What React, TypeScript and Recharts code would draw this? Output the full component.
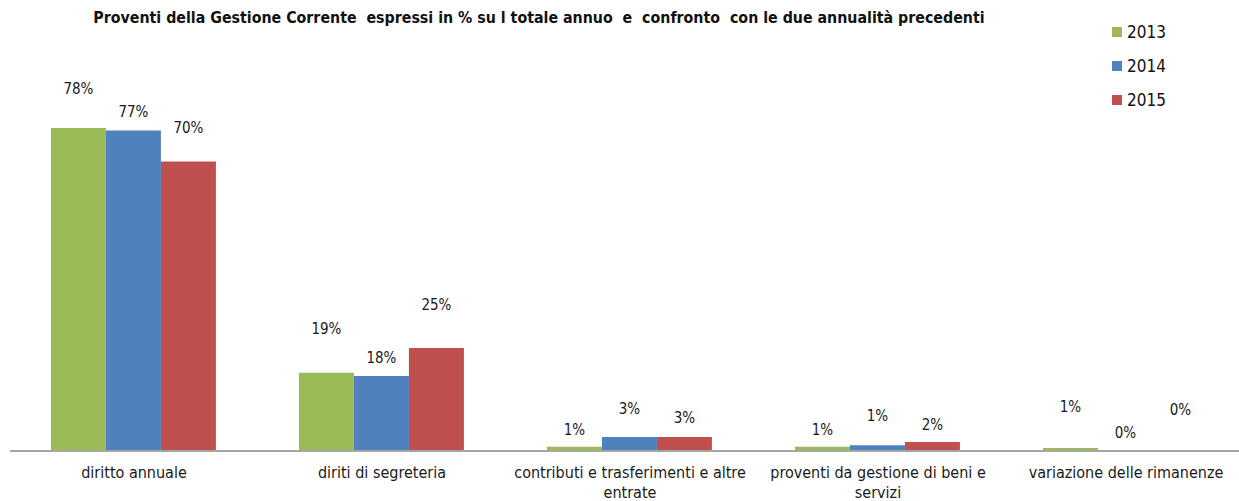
import React from 'react';
import { BarChart, Bar, XAxis, YAxis } from 'recharts';

const categories = [
  'diritto annuale',
  'diriti di segreteria',
  'contributi e trasferimenti e altre entrate',
  'proventi da gestione di beni e servizi',
  'variazione delle rimanenze',
];
const tickLines = [
  ['diritto annuale'],
  ['diriti di segreteria'],
  ['contributi e trasferimenti e altre', 'entrate'],
  ['proventi da gestione di beni e', 'servizi'],
  ['variazione delle rimanenze'],
];
const values2013 = [78, 18.9, 1, 1, 0.7];
const values2014 = [77.4, 18.1, 3.4, 1.4, 0];
const values2015 = [69.9, 24.9, 3.4, 2.2, 0];
const labels2013 = ['78%', '19%', '1%', '1%', '1%'];
const labels2014 = ['77%', '18%', '3%', '1%', '0%'];
const labels2015 = ['70%', '25%', '3%', '2%', '0%'];

// how far (px) each data label sits above its bar, as placed in the original
const lift2013 = [39, 44, 17, 17, 41];
const lift2014 = [19, 18, 28, 29, 18];
const lift2015 = [34, 43, 19, 17, 41];

const series = [
  { key: 'y2013', name: '2013', color: '#9BBB59', values: values2013, labels: labels2013, lift: lift2013 },
  { key: 'y2014', name: '2014', color: '#4F81BD', values: values2014, labels: labels2014, lift: lift2014 },
  { key: 'y2015', name: '2015', color: '#C0504D', values: values2015, labels: labels2015, lift: lift2015 },
];

const data = categories.map((c, i) => ({
  name: c,
  y2013: values2013[i],
  y2014: values2014[i],
  y2015: values2015[i],
}));

const FONT = '"Liberation Sans Narrow", "DejaVu Sans Condensed", "Liberation Sans", sans-serif';

function CategoryTick({ x, y, payload }: any) {
  const lines = tickLines[payload.index] || [payload.value];
  return (
    <text x={x} y={y} textAnchor="middle" fontFamily={FONT} fontSize={16} fill="#1a1a1a">
      {lines.map((l, i) => (
        <tspan key={i} x={x} dy={i === 0 ? 19 : 20}>
          {l}
        </tspan>
      ))}
    </text>
  );
}

function LabelText({ x, y, text }: { x: number; y: number; text: string }) {
  return (
    <text x={x} y={y} textAnchor="middle" dominantBaseline="central" fontFamily={FONT} fontSize={15} fill="#1a1a1a">
      {text}
    </text>
  );
}

// Recharts draws no label for a zero-height bar, so the first series also
// writes the labels of zero-valued bars beside it (same bar width, gap 0).
function makeLabel(si: number) {
  const s = series[si];
  return (props: any) => {
    const { x, y, width, height, index } = props;
    const top = height < 0 ? y + height : y;
    const base = height < 0 ? y : y + height;
    const extra = series
      .map((o, sj) => ({ o, sj }))
      .filter(({ o, sj }) => sj > si && o.values[index] === 0);
    return (
      <g key={`lbl-${si}-${index}`}>
        <LabelText x={x + width / 2} y={top - s.lift[index]} text={s.labels[index]} />
        {si === 0 &&
          extra.map(({ o, sj }) => (
            <LabelText
              key={sj}
              x={x + width * (sj - si) + width / 2}
              y={base - o.lift[index]}
              text={o.labels[index]}
            />
          ))}
      </g>
    );
  };
}

export default function App() {
  return (
    <div style={{ position: 'absolute', left: 0, top: 0, width: 1239, height: 501, overflow: 'hidden', background: '#fff' }}>
      <BarChart
        width={1250}
        height={501}
        data={data}
        margin={{ top: 37, right: 0, bottom: 0, left: 10 }}
        barCategoryGap="16.5%"
        barGap={0}
      >
        <XAxis
          dataKey="name"
          interval={0}
          height={50}
          tickLine={false}
          axisLine={{ stroke: '#A6A6A6', strokeWidth: 2 }}
          tick={<CategoryTick />}
        />
        <YAxis hide domain={[0, 100]} />
        {series.map((s, si) => (
          <Bar
            key={s.key}
            dataKey={s.key}
            name={s.name}
            fill={s.color}
            isAnimationActive={false}
            label={makeLabel(si)}
          />
        ))}
      </BarChart>
      <div
        style={{
          position: 'absolute',
          left: 0,
          width: 1078,
          top: 8,
          textAlign: 'center',
          fontFamily: FONT,
          fontWeight: 'bold',
          fontSize: 15.8,
          color: '#111',
        }}
      >
        Proventi della Gestione Corrente&nbsp; espressi in % su l totale annuo&nbsp; e&nbsp; confronto&nbsp; con le due annualità precedenti
      </div>
      <div style={{ position: 'absolute', left: 1112, top: 15, fontFamily: FONT, fontSize: 17, color: '#111' }}>
        {series.map((s) => (
          <div key={s.key} style={{ display: 'flex', alignItems: 'center', height: 34 }}>
            <span style={{ width: 10, height: 10, background: s.color, display: 'inline-block', marginRight: 5 }} />
            {s.name}
          </div>
        ))}
      </div>
    </div>
  );
}
